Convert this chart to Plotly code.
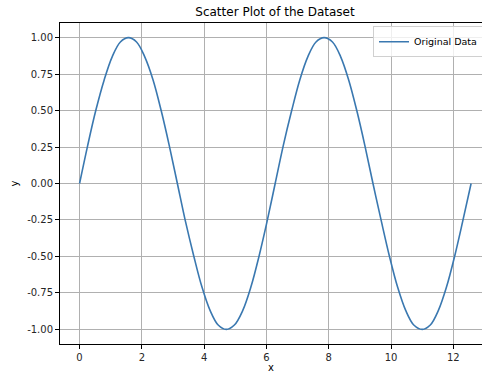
import plotly.graph_objects as go

x_vals = [0, 0.26, 0.52, 0.79, 1.05, 1.31, 1.57, 1.83, 2.09, 2.36, 2.62, 2.88,
          3.14, 3.40, 3.67, 3.93, 4.19, 4.45, 4.71, 4.97, 5.24, 5.50, 5.76, 6.02,
          6.28, 6.54, 6.81, 7.07, 7.33, 7.59, 7.85, 8.12, 8.38, 8.64, 8.90, 9.16,
          9.42, 9.69, 9.95, 10.21, 10.47, 10.73, 11.00, 11.26, 11.52, 11.78, 12.04, 12.30,
          12.57]
y_vals = [0, 0.26, 0.50, 0.71, 0.87, 0.97, 1.00, 0.97, 0.87, 0.71, 0.50, 0.26,
          0, -0.26, -0.50, -0.71, -0.87, -0.97, -1.00, -0.97, -0.87, -0.71, -0.50, -0.26,
          0, 0.26, 0.50, 0.71, 0.87, 0.97, 1.00, 0.97, 0.87, 0.71, 0.50, 0.26,
          0, -0.26, -0.50, -0.71, -0.87, -0.97, -1.00, -0.97, -0.87, -0.71, -0.50, -0.26,
          0]
x_ticks = [0, 2, 4, 6, 8, 10, 12]
y_ticks = [-1.00, -0.75, -0.50, -0.25, 0.00, 0.25, 0.50, 0.75, 1.00]

fig = go.Figure()
fig.add_trace(go.Scatter(x=x_vals, y=y_vals, mode="lines", name="Original Data",
                         line=dict(color="#3a78b0", width=1.6, shape="spline", smoothing=1.0)))

font = "DejaVu Sans, sans-serif"
axis_common = dict(showline=True, linecolor="black", linewidth=1, ticks="outside",
                   ticklen=4, tickcolor="black", showgrid=True, gridcolor="#b0b0b0",
                   gridwidth=0.8, zeroline=False, tickfont=dict(size=10, color="#262626"))
fig.update_layout(
    width=482, height=373,
    margin=dict(l=60, r=0, t=23, b=29, autoexpand=False),
    paper_bgcolor="white", plot_bgcolor="white",
    font=dict(family=font, size=10, color="black"),
    title=dict(text="Scatter Plot of the Dataset", x=275 / 482, xanchor="center",
               y=1 - 12 / 373, yanchor="middle", font=dict(size=12, color="black")),
    xaxis=dict(range=[-0.628, 12.92], tickvals=x_ticks, ticktext=[str(t) for t in x_ticks],
               mirror=True, automargin=False,
               title=dict(text="x", standoff=2, font=dict(size=10)), **axis_common),
    yaxis=dict(range=[-1.1, 1.1], tickvals=y_ticks, ticktext=[f"{t:.2f}" for t in y_ticks],
               automargin=False,
               title=dict(text="y", standoff=6, font=dict(size=10)), **axis_common),
    legend=dict(x=(373 - 60) / 422, y=0.99, xanchor="left", yanchor="top",
                bgcolor="rgba(255,255,255,0.8)", bordercolor="#d0d0d0", borderwidth=1,
                itemwidth=30, font=dict(size=9.5, color="black")),
    showlegend=True,
)
fig.write_html("out.html", config={"displayModeBar": False},
               post_script="document.body.style.margin='0';document.body.style.overflow='hidden';")
